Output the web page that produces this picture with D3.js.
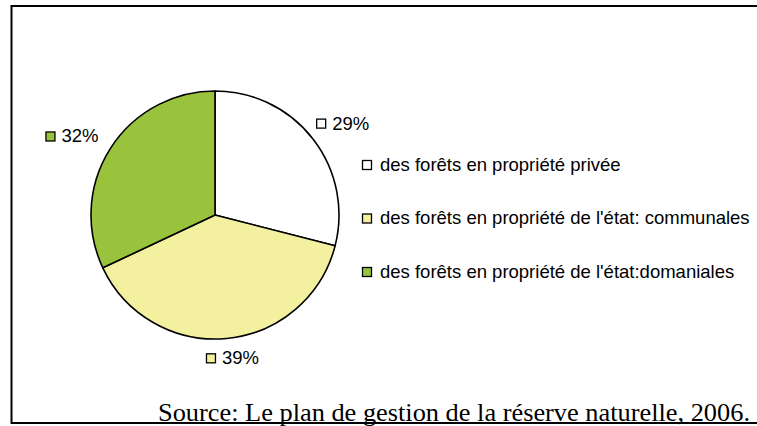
<!DOCTYPE html>
<html>
<head>
<meta charset="utf-8">
<script src="https://cdn.jsdelivr.net/npm/d3@7"></script>
<style>
  html, body { margin: 0; padding: 0; background: #fff; }
  svg { display: block; }
</style>
</head>
<body>
<svg id="chart" width="757" height="426"></svg>
<script>
// Répartition de la propriété forestière
const categories = [
  "des forêts en propriété privée",
  "des forêts en propriété de l'état: communales",
  "des forêts en propriété de l'état:domaniales"
];
const values = [29, 39, 32];
const colors = ["#ffffff", "#f3f0a0", "#99c33c"];
const sourceText = "Source: Le plan de gestion de la réserve naturelle, 2006.";

const svg = d3.select("#chart");
const sansFont = "'Liberation Sans', Arial, sans-serif";
const sansSize = 18.5;

// cadre
svg.append("rect")
  .attr("x", 11.5).attr("y", 6)
  .attr("width", 760).attr("height", 417)
  .attr("fill", "none").attr("stroke", "#000").attr("stroke-width", 2);

const cx = 215, cy = 215, radius = 124;

const pie = d3.pie().sort(null).value(d => d.value);
const arcs = pie(values.map((v, i) => ({ value: v, name: categories[i], color: colors[i] })));
const arc = d3.arc().innerRadius(0).outerRadius(radius);

const g = svg.append("g").attr("transform", `translate(${cx},${cy})`);
g.selectAll("path")
  .data(arcs)
  .join("path")
  .attr("d", arc)
  .attr("fill", d => d.data.color)
  .attr("stroke", "#000")
  .attr("stroke-width", 1.6)
  .attr("stroke-linejoin", "round");

// étiquettes de pourcentage, placées à l'extérieur du camembert
const labelArc = d3.arc().innerRadius(radius + 30).outerRadius(radius + 30);
const labelOffsets = [[6, 3], [3, -10], [-13, 4]];
const labels = svg.append("g").attr("transform", `translate(${cx},${cy})`);
arcs.forEach((d, i) => {
  const [lx, ly] = labelArc.centroid(d);
  const x = lx + labelOffsets[i][0];
  const y = ly + labelOffsets[i][1];
  const grp = labels.append("g");
  const txt = grp.append("text")
    .attr("font-family", sansFont)
    .attr("font-size", sansSize)
    .attr("fill", "#000")
    .attr("dominant-baseline", "middle")
    .attr("y", 1)
    .text(d3.format(".0%")(d.data.value / 100));
  const w = txt.node().getComputedTextLength();
  grp.attr("transform", `translate(${x - (w + 16) / 2},${y})`);
  txt.attr("x", 16);
  grp.append("rect")
    .attr("x", 0.5).attr("y", -4.5)
    .attr("width", 9).attr("height", 9)
    .attr("fill", d.data.color)
    .attr("stroke", "#000").attr("stroke-width", 1.3);
});

// légende
const legendY = d3.scalePoint().domain(categories).range([165, 272]);
const legend = svg.append("g");
categories.forEach((c, i) => {
  const y = legendY(c);
  legend.append("rect")
    .attr("x", 362.5).attr("y", y - 4.5)
    .attr("width", 9).attr("height", 9)
    .attr("fill", colors[i])
    .attr("stroke", "#000").attr("stroke-width", 1.3);
  legend.append("text")
    .attr("x", 380).attr("y", y + 1)
    .attr("dominant-baseline", "middle")
    .attr("font-family", sansFont)
    .attr("font-size", sansSize)
    .attr("fill", "#000")
    .text(c);
});

// source
svg.append("text")
  .attr("x", 158).attr("y", 421)
  .attr("font-family", "'Liberation Serif', 'Times New Roman', serif")
  .attr("font-size", 25)
  .attr("textLength", 592)
  .attr("lengthAdjust", "spacingAndGlyphs")
  .attr("fill", "#000")
  .text(sourceText);
</script>
</body>
</html>
